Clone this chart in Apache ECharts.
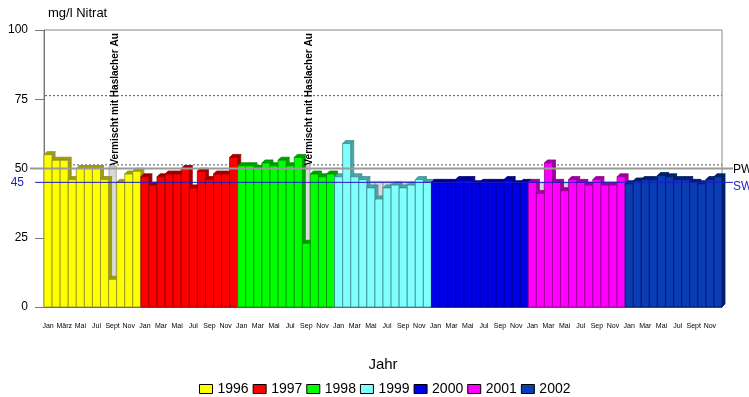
<!DOCTYPE html>
<html>
<head>
<meta charset="utf-8">
<script src="https://cdn.jsdelivr.net/npm/echarts@6/dist/echarts.min.js"></script>
<style>
html, body { margin: 0; padding: 0; background: #fff; }
#nitrat { width: 749px; height: 397px; }
</style>
</head>
<body>
<div id="nitrat"></div>
<script>
// Jahre und Monatsbeschriftungen
var years = ['1996', '1997', '1998', '1999', '2000', '2001', '2002'];
var months1996 = ['Jan', '', 'März', '', 'Mai', '', 'Jul', '', 'Sept', '', 'Nov', ''];
var monthsStd = ['Jan', '', 'Mar', '', 'Mai', '', 'Jul', '', 'Sep', '', 'Nov', ''];
var months2002 = ['Jan', '', 'Mar', '', 'Mai', '', 'Jul', '', 'Sept', '', 'Nov', ''];

// Nitrat mg/l, Monatswerte
var v1996 = [55, 53, 53, 46, 50, 50, 50, 46, 10, 45, 48, 49];
var v1997 = [47, 44, 47, 48, 48, 50, 43, 49, 46, 48, 48, 54];
var v1998 = [51, 51, 50, 52, 51, 53, 51, 54, 23, 48, 47, 48];
var v1999 = [47, 59, 47, 46, 43, 39, 43, 44, 43, 44, 46, 45];
var v2000 = [45, 45, 45, 46, 46, 44.5, 45, 45, 45, 46, 44.5, 45];
var v2001 = [45, 41, 52, 45, 42, 46, 45, 44, 46, 44, 44, 47];
var v2002 = [44.5, 45.5, 46, 46, 47.5, 47, 46, 46, 45, 44.5, 46, 47];
var yearValues = [v1996, v1997, v1998, v1999, v2000, v2001, v2002];

// graue Flächen hinter den Einbrüchen [Monatsindex, Wert]
var greyBack = [[8, 51], [32, 51], [39, 45.5], [40, 45.5], [41, 45.5], [42, 45.5], [43, 45.5],
  [44, 45.5], [45, 45.5], [46, 45.5], [47, 45.5], [61, 45], [64, 45]];

var pwValue = 50;
var swValue = 45;
var gridDashed = [26.3, 51.3, 76.3];
var yTicks = [0, 25, 50, 75, 100];
var noteText = 'Vermischt mit Haslacher Au';
var noteMonths = [8, 32];

var barColors = ['#ffff00', '#ff0000', '#00ff00', '#80ffff', '#0000e6', '#ff00ff', '#0a3cb4'];
var darkColors = ['#a0a000', '#a00000', '#00a000', '#4aa8a8', '#000090', '#a000a0', '#002070'];
var edgeColors = ['#8c8c30', '#900000', '#009000', '#3c8c8c', '#000070', '#900090', '#001a60'];

var categories = [];
var monthLabels = [];
years.forEach(function (y, k) {
  var ml = k === 0 ? months1996 : (k === 6 ? months2002 : monthsStd);
  for (var m = 0; m < 12; m++) {
    categories.push(y + '-' + (m + 1));
    monthLabels.push(ml[m]);
  }
});

var DX = 3, DY = 3;
function renderBar(params, api) {
  var idx = api.value(0);
  var v = api.value(1);
  var k = api.value(2);
  var top = api.coord([idx, v]);
  var base = api.coord([idx, 0]);
  var w = api.size([1, 0])[0];
  var x0 = top[0] - w / 2, x1 = top[0] + w / 2;
  var ty = top[1], by = base[1];
  return {
    type: 'group',
    children: [
      {
        type: 'polygon',
        shape: { points: [[x1, ty], [x1 + DX, ty - DY], [x1 + DX, by - DY], [x1, by]] },
        style: { fill: darkColors[k], stroke: edgeColors[k], lineWidth: 0.8 }
      },
      {
        type: 'polygon',
        shape: { points: [[x0, ty], [x0 + DX, ty - DY], [x1 + DX, ty - DY], [x1, ty]] },
        style: { fill: darkColors[k], stroke: edgeColors[k], lineWidth: 0.8 }
      },
      {
        type: 'rect',
        shape: { x: x0, y: ty, width: w, height: by - ty },
        style: { fill: barColors[k], stroke: edgeColors[k], lineWidth: 0.8 }
      }
    ]
  };
}

var series = [];
series.push({
  type: 'bar',
  data: greyBack.map(function (p) { return { value: [p[0], p[1]] }; }),
  barWidth: '100%',
  z: 2,
  silent: true,
  itemStyle: { color: '#dadada', borderColor: '#9a9a9a', borderWidth: 0.8 }
});
years.forEach(function (y, k) {
  series.push({
    name: y,
    type: 'custom',
    renderItem: renderBar,
    z: 3,
    itemStyle: { color: barColors[k], borderColor: '#000', borderWidth: 1 },
    encode: { x: 0, y: 1 },
    data: yearValues[k].map(function (v, m) { return [k * 12 + m, v, k]; })
  });
});

var chart = echarts.init(document.getElementById('nitrat'));
var option = {
  animation: false,
  textStyle: { fontFamily: 'Liberation Sans, Arial, sans-serif' },
  grid: { left: 44, right: 27, top: 30, bottom: 90, show: true, borderColor: '#888', borderWidth: 1 },
  legend: {
    data: years,
    left: 199,
    top: 382,
    padding: 0,
    icon: 'rect',
    itemWidth: 13,
    itemHeight: 9,
    itemGap: 4,
    itemStyle: { borderColor: '#000', borderWidth: 1 },
    textStyle: { fontSize: 14, color: '#000' }
  },
  xAxis: {
    type: 'category',
    data: categories,
    boundaryGap: true,
    name: 'Jahr',
    nameLocation: 'middle',
    nameGap: 50,
    nameTextStyle: { fontSize: 15, color: '#000' },
    axisLine: { lineStyle: { color: '#666' } },
    axisTick: { alignWithLabel: true, interval: 0, length: 8, lineStyle: { color: '#777' } },
    axisLabel: {
      interval: 0, fontSize: 7, color: '#000', margin: 16,
      formatter: function (val, i) { return monthLabels[i]; }
    },
    splitLine: { show: false }
  },
  yAxis: {
    type: 'value',
    min: 0,
    max: 100,
    interval: 25,
    name: 'mg/l Nitrat',
    nameGap: 10,
    nameTextStyle: { fontSize: 13, color: '#000', align: 'left', padding: [0, 0, 0, 4] },
    axisLine: { show: true, lineStyle: { color: '#777' } },
    axisTick: { show: true, length: 9, lineStyle: { color: '#777' } },
    axisLabel: {
      fontSize: 12, color: '#000', margin: 16,
      formatter: function (v) { return yTicks.indexOf(v) >= 0 ? String(v) : ''; }
    },
    splitLine: { show: false }
  },
  series: series
};
chart.setOption(option);

// Bezugslinien PW / SW, Rasterlinien und Beschriftungen, über die Achsen positioniert
var yPW = chart.convertToPixel({ yAxisIndex: 0 }, pwValue);
var ySW = chart.convertToPixel({ yAxisIndex: 0 }, swValue);
var xL = chart.convertToPixel({ xAxisIndex: 0 }, 0);
var xR = chart.convertToPixel({ xAxisIndex: 0 }, categories.length - 1);
var halfW = (xR - xL) / (categories.length - 1) / 2;
var graphics = [];
gridDashed.forEach(function (g) {
  var yg = chart.convertToPixel({ yAxisIndex: 0 }, g);
  graphics.push({ type: 'line', z: 0, shape: { x1: xL - halfW + 1, y1: yg, x2: xR + halfW, y2: yg },
    style: { stroke: '#555', lineWidth: 1, lineDash: [2, 2] } });
});
graphics.push(
  { type: 'line', shape: { x1: xL - halfW - 14, y1: yPW, x2: xR + halfW + 11, y2: yPW },
    style: { stroke: '#9a9a9a', lineWidth: 2 }, z: 10 },
  { type: 'line', shape: { x1: xL - halfW - 9, y1: ySW, x2: xR + halfW + 11, y2: ySW },
    style: { stroke: '#1c1cc8', lineWidth: 1 }, z: 11 },
  { type: 'text', x: xR + halfW + 11, y: yPW + 1,
    style: { text: 'PW', fill: '#000', fontSize: 12, fontFamily: 'Liberation Sans', verticalAlign: 'middle' }, z: 12 },
  { type: 'text', x: xR + halfW + 11, y: ySW + 4,
    style: { text: 'SW', fill: '#1c1cc8', fontSize: 12, fontFamily: 'Liberation Sans', verticalAlign: 'middle' }, z: 12 },
  { type: 'text', x: xL - halfW - 20, y: ySW,
    style: { text: String(swValue), fill: '#1c1cc8', fontSize: 12, fontFamily: 'Liberation Sans', align: 'right', verticalAlign: 'middle' }, z: 12 }
);
noteMonths.forEach(function (m) {
  var px = chart.convertToPixel({ xAxisIndex: 0 }, m);
  graphics.push({
    type: 'text', x: px + 3, y: yPW - 3, rotation: Math.PI / 2,
    style: { text: noteText, fill: '#000', fontSize: 10, fontWeight: 'bold',
      fontFamily: 'Liberation Sans', align: 'left', verticalAlign: 'middle' },
    z: 12
  });
});
chart.setOption({ graphic: graphics });
</script>
</body>
</html>
